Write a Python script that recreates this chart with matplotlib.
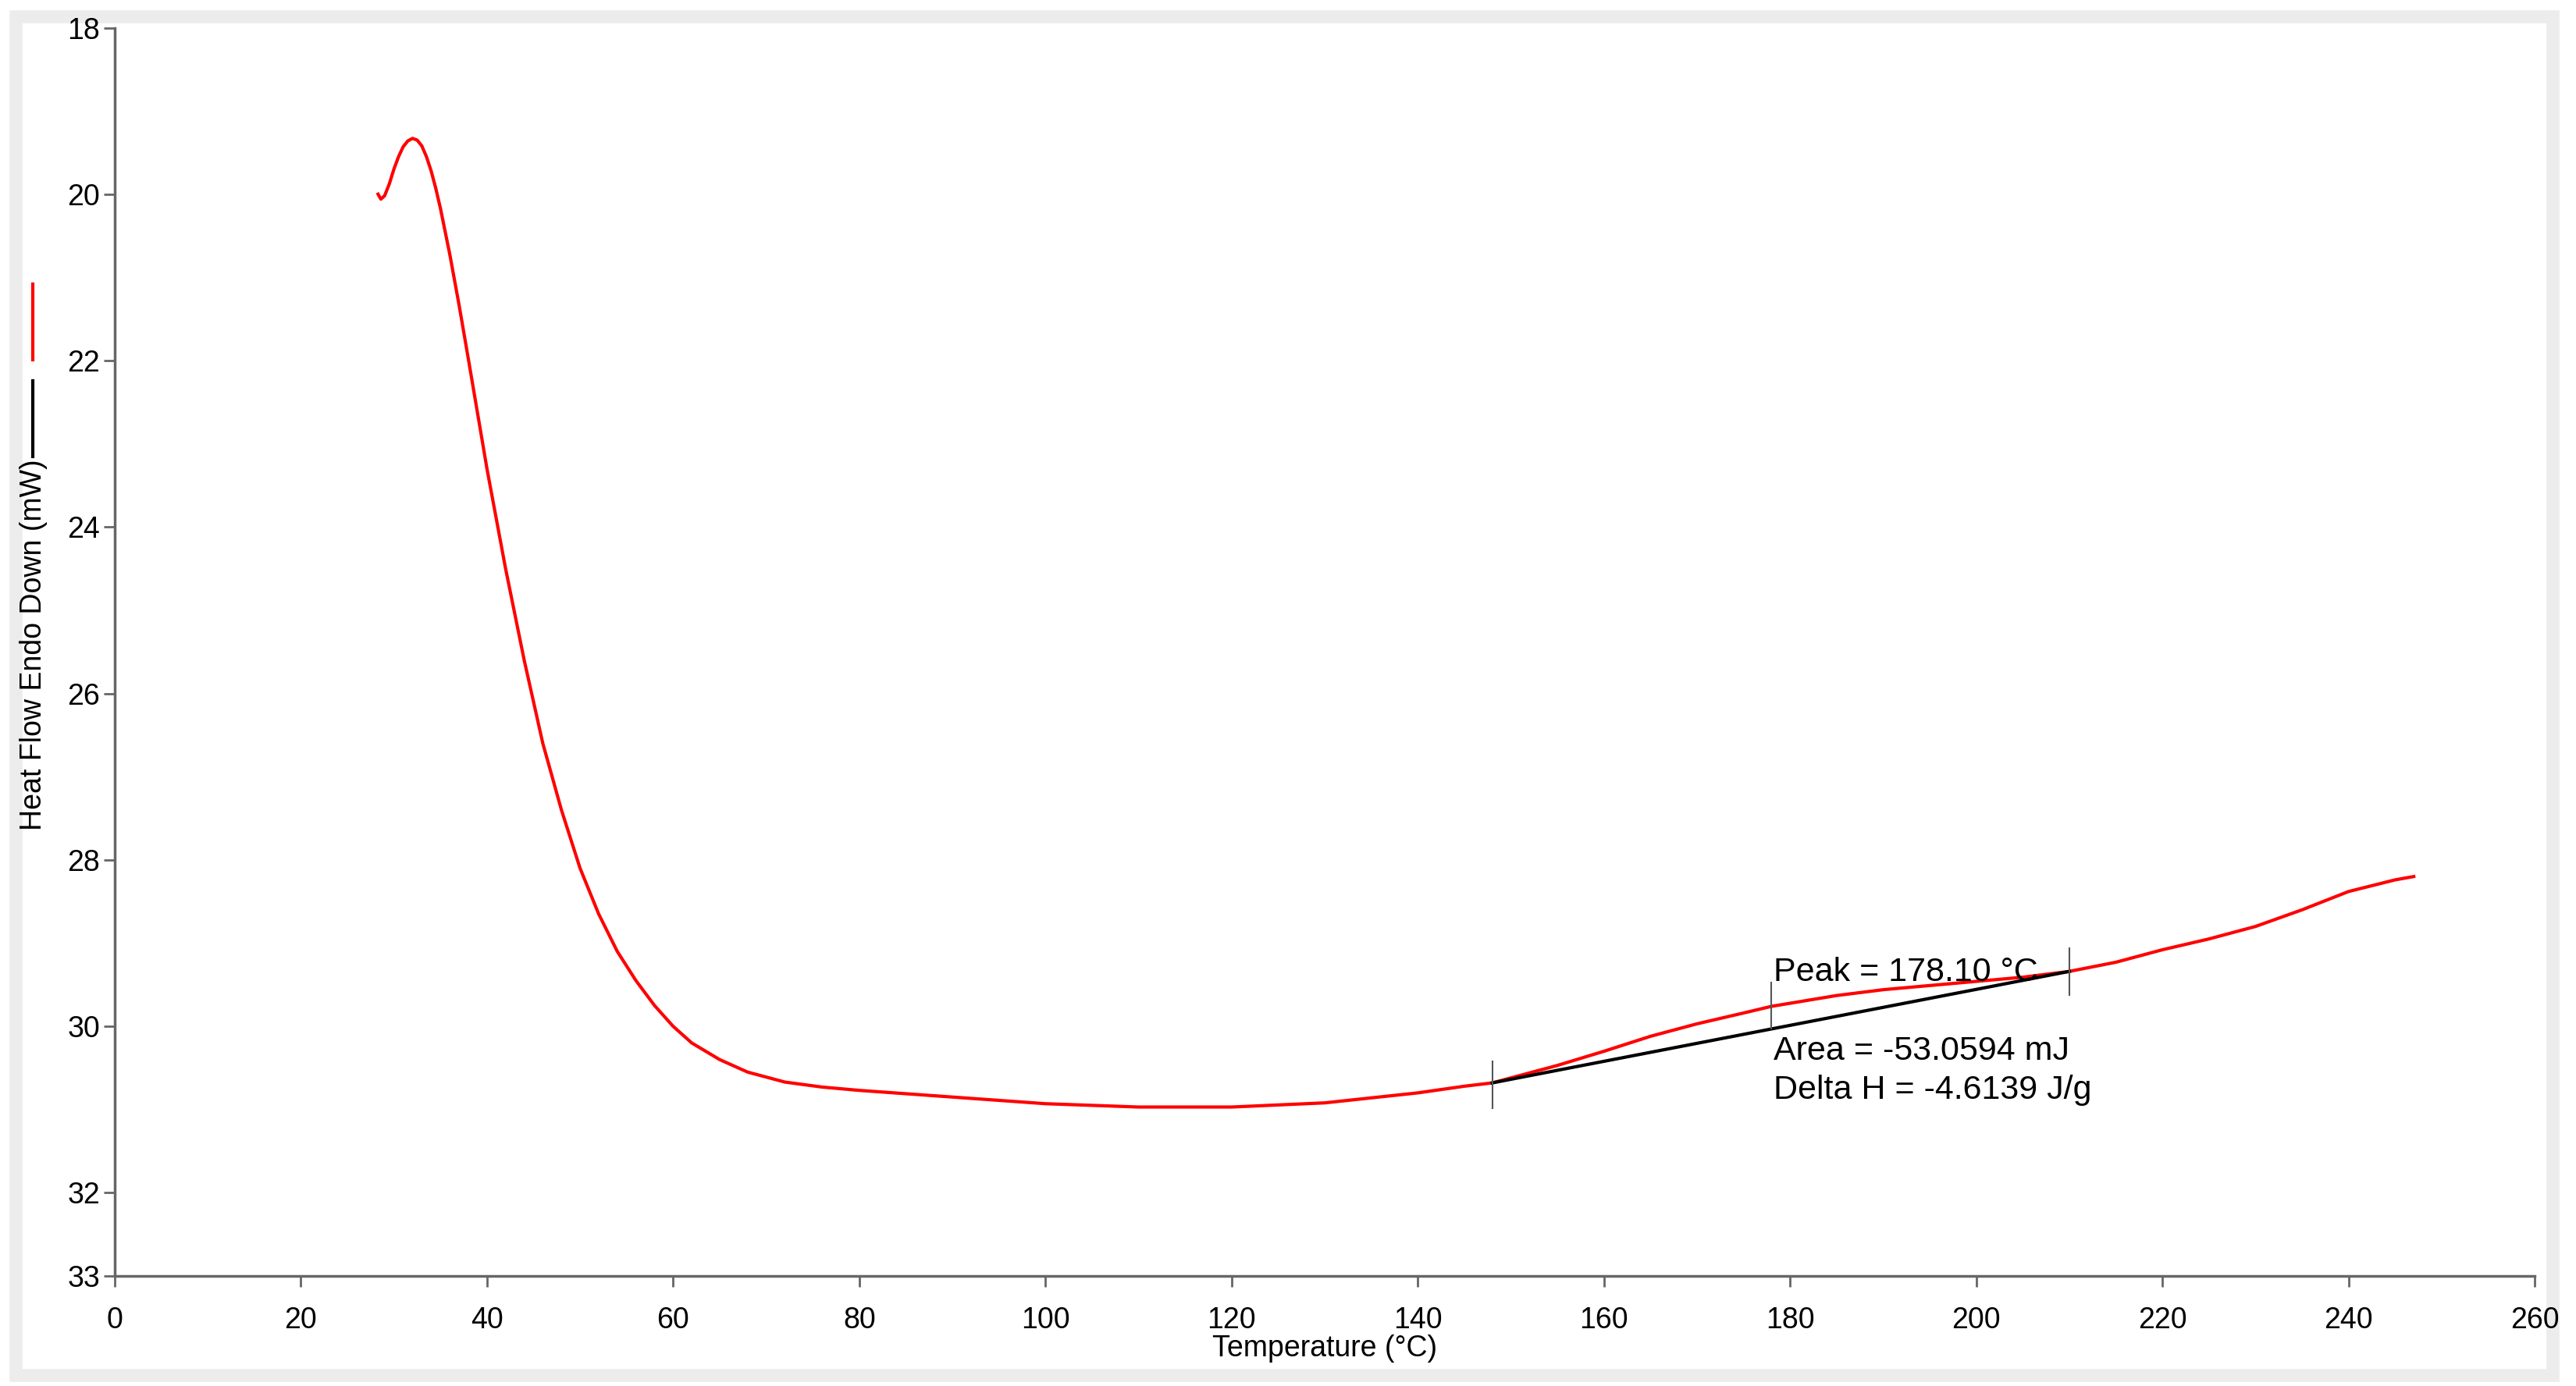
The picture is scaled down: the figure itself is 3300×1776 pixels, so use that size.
import numpy as np
import matplotlib
matplotlib.use('Agg')
import matplotlib.pyplot as plt
from matplotlib.lines import Line2D
from matplotlib.patches import Rectangle

matplotlib.rcParams.update({'font.family': ['Liberation Sans', 'DejaVu Sans']})

### data
temp = [28.3, 28.6, 29.0, 29.5, 30.0, 30.5, 31.0, 31.5, 32.0, 32.5, 33.0, 33.5, 34.0, 34.5,
        35, 36, 37, 38, 40, 42, 44, 46, 48, 50, 52, 54, 56, 58,
        60, 62, 65, 68, 72, 76, 80, 90, 100, 110, 120, 130, 140, 145, 148, 155, 160, 165,
        170, 175, 178, 185, 190, 200, 205, 210, 215, 220, 225, 230, 235, 240, 245, 247]
heat_flow = [20.0, 20.06, 20.02, 19.88, 19.7, 19.55, 19.43, 19.36, 19.33, 19.35, 19.42,
             19.55, 19.72, 19.93, 20.17, 20.72, 21.33, 21.98, 23.3, 24.5, 25.6,
             26.6, 27.4, 28.1, 28.65, 29.1, 29.45, 29.75, 30.0, 30.2, 30.4, 30.55, 30.67,
             30.73, 30.77, 30.85, 30.93, 30.97, 30.97, 30.92, 30.8, 30.72, 30.68, 30.47,
             30.3, 30.12, 29.97, 29.84, 29.76, 29.63, 29.56, 29.46, 29.41, 29.34, 29.23,
             29.08, 28.95, 28.8, 28.6, 28.38, 28.24, 28.2]
baseline_t = [148, 210]
baseline_hf = [30.68, 29.34]
mark_t = [148, 178, 210]
mark_hf = [30.7, 29.75, 29.34]
annot = ['Peak = 178.10 °C', 'Area = -53.0594 mJ', 'Delta H = -4.6139 J/g']
xticks = list(range(0, 261, 20))
yticks = [18, 20, 22, 24, 26, 28, 30, 32, 33]

fig = plt.figure(figsize=(33, 17.76), dpi=100)
ax = fig.add_axes([0.0445, 0.0794, 0.9395, 0.9006])

# light grey frame around the plot area
fig.patches.append(Rectangle((0.006, 0.008), 0.985, 0.98, transform=fig.transFigure,
                             fill=False, edgecolor='#ececec', linewidth=12, zorder=-1))

ax.plot(temp, heat_flow, '-', color='red', linewidth=3)
ax.plot(baseline_t, baseline_hf, '-', color='black', linewidth=3)
for t, h in zip(mark_t, mark_hf):
    ax.plot([t, t], [h - 0.28, h + 0.28], '-', color='#555555', linewidth=1.5)

ax.text(178.2, 29.35, annot[0], fontsize=31, va='center', ha='left')
ax.text(178.2, 30.3, annot[1], fontsize=31, va='center', ha='left')
ax.text(178.2, 30.77, annot[2], fontsize=31, va='center', ha='left')

ax.set_xlim(0, 260)
ax.set_ylim(33, 18)
ax.set_xticks(xticks)
ax.set_yticks(yticks)
ax.tick_params(labelsize=27, color='#666666', length=10, width=2)
ax.tick_params(axis='x', pad=18)
for s in ['top', 'right']:
    ax.spines[s].set_visible(False)
for s in ['left', 'bottom']:
    ax.spines[s].set_color('#666666')
    ax.spines[s].set_linewidth(2.5)

ax.set_xlabel('Temperature (°C)', fontsize=27, labelpad=0)
fig.text(0.013, 0.535, 'Heat Flow Endo Down (mW)', fontsize=27, rotation=90,
         va='center', ha='center')

# legend strokes at far left
fig.add_artist(Line2D([0.0127, 0.0127], [1 - 364/1776, 1 - 461/1776], color='red', linewidth=3))
fig.add_artist(Line2D([0.0127, 0.0127], [1 - 488/1776, 1 - 585/1776], color='black', linewidth=3))

fig.savefig('out.png', dpi=100)
